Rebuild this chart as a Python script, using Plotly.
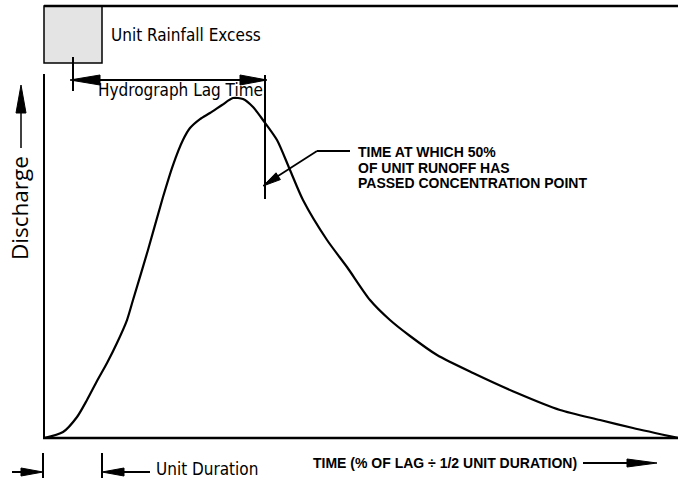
import plotly.graph_objects as go

# ---- data (time in % of plot width, discharge in % of plot height) ----
time_pct = [0.0, 3.00, 5.21, 6.78, 8.36, 9.94, 11.51, 13.09, 14.04, 16.40, 18.77, 20.35,
            21.92, 23.03, 24.61, 26.18, 28.08, 29.81, 31.39, 32.97, 34.54, 36.75, 38.80,
            40.85, 44.64, 47.79, 51.42, 54.57, 57.73, 61.99, 67.67, 74.61, 81.39, 87.70,
            92.90, 100.0]
discharge_pct = [0.0, 1.39, 4.86, 8.80, 13.19, 17.36, 21.99, 27.31, 31.94, 43.52, 55.79, 63.19,
                 68.98, 71.76, 73.84, 75.23, 77.08, 78.70, 78.47, 76.62, 73.61, 68.98, 62.04,
                 55.09, 45.83, 39.58, 31.94, 27.31, 23.61, 19.21, 15.05, 10.42, 6.48, 4.17,
                 2.31, 0.0]

label_rain = "Unit Rainfall Excess"
label_lag = "Hydrograph Lag Time"
label_y = "Discharge"
label_dur = "Unit Duration"
label_x = "TIME (% OF LAG \u00f7 1/2 UNIT DURATION)"
label_50 = ["TIME AT WHICH 50%", "OF UNIT RUNOFF HAS", "PASSED CONCENTRATION POINT"]

W, H = 678, 478


def P(px, py):
    return px / W, 1 - py / H


def line(x0, y0, x1, y1, w=2):
    a, b = P(x0, y0)
    c, d = P(x1, y1)
    return dict(type="line", xref="paper", yref="paper", x0=a, y0=b, x1=c, y1=d,
                line=dict(color="black", width=w), layer="above")


def tri(tip, b1, b2):
    pts = [P(*tip), P(*b1), P(*b2)]
    path = "M {} {} L {} {} L {} {} Z".format(*[v for p in pts for v in p])
    return dict(type="path", xref="paper", yref="paper", path=path,
                fillcolor="black", line=dict(color="black", width=1), layer="above")


fig = go.Figure()
fig.add_trace(go.Scatter(x=time_pct, y=discharge_pct, mode="lines",
                         line=dict(color="black", width=2.2, shape="spline", smoothing=0.7),
                         hoverinfo="skip", showlegend=False))

shapes = []
# rainfall box
bx0, by0 = P(44, 6)
bx1, by1 = P(102, 63)
shapes.append(dict(type="rect", xref="paper", yref="paper", x0=bx0, y0=by1, x1=bx1, y1=by0,
                   fillcolor="#e4e4e4", line=dict(color="black", width=1.5), layer="below"))
# frame lines
shapes.append(line(44, 6, 678, 6, 2.6))
shapes.append(line(44, 74, 44, 439, 2))
shapes.append(line(43, 438, 678, 438, 2.6))
# lag time
shapes.append(line(73, 57, 73, 91, 2))
shapes.append(line(72, 80, 266, 80, 1.8))
shapes.append(tri((70, 80), (100, 75), (100, 85)))
shapes.append(tri((267, 80), (240, 75), (240, 85)))
shapes.append(line(265, 75, 265, 199, 2))
# pointer to 50% time
shapes.append(line(350, 151, 317, 151, 1.8))
shapes.append(line(317, 151, 264, 185, 1.8))
shapes.append(tri((263, 186), (280.4, 179.6), (276.0, 172.8)))
# discharge arrow
shapes.append(line(21, 148, 21, 105, 1.5))
shapes.append(tri((21, 85), (16, 113), (26, 113)))
# unit duration arrows
shapes.append(line(43, 453, 43, 478, 2))
shapes.append(line(12, 472, 30, 472, 2))
shapes.append(tri((43, 472), (21, 468), (21, 476)))
shapes.append(line(102, 453, 102, 478, 2))
shapes.append(line(115, 472, 150, 472, 2))
shapes.append(tri((102, 472), (124, 468), (124, 476)))
# time arrow
shapes.append(line(583, 463, 635, 463, 1.8))
shapes.append(tri((657, 463), (627, 459), (627, 467)))

narrow = "Liberation Sans Narrow, Arial Narrow, DejaVu Sans Condensed, sans-serif"
bold = "Liberation Sans, Arial, sans-serif"


def text(s, px, py, size, family, anchor="left", angle=0, weight="normal"):
    x, y = P(px, py)
    return dict(text=s, x=x, y=y, xref="paper", yref="paper", xanchor=anchor, yanchor="middle",
                showarrow=False, textangle=angle,
                font=dict(size=size, family=family, color="black", weight=weight))


annotations = [
    text(label_rain, 109, 35, 17, narrow),
    text(label_lag, 180, 90, 17, narrow, anchor="center"),
    text(label_dur, 154, 469, 17, narrow),
    text(label_y, 19, 208, 22.5, "Open Sans, sans-serif", anchor="center", angle=-90),
    text(label_x, 311, 463, 14, bold, weight="bold"),
]
for i, s in enumerate(label_50):
    annotations.append(text(s, 356, 152 + 15.5 * i, 14, bold, weight="bold"))

fig.update_layout(
    width=W, height=H, margin=dict(l=0, r=0, t=0, b=0),
    paper_bgcolor="white", plot_bgcolor="white",
    xaxis=dict(range=[-44 / 6.34, 100], visible=False, fixedrange=True),
    yaxis=dict(range=[(438 - 478) / 4.32, 438 / 4.32], visible=False, fixedrange=True),
    shapes=shapes, annotations=annotations, showlegend=False,
)

fig.write_html("out.html", config=dict(displayModeBar=False),
               post_script="document.body.style.margin='0';document.body.style.overflow='hidden';")
